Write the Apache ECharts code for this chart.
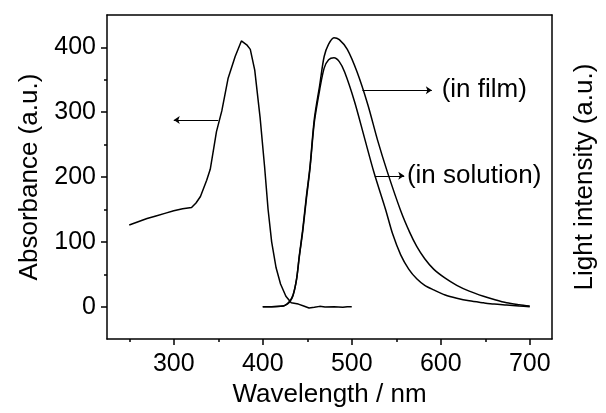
<!DOCTYPE html>
<html>
<head>
<meta charset="utf-8">
<script src="https://cdn.jsdelivr.net/npm/echarts@6/dist/echarts.min.js"></script>
<style>
    html, body { margin: 0; padding: 0; background: #fff; }
    #chart { width: 606px; height: 413px; }
</style>
</head>
<body>
<div id="chart"></div>
<script>
// absorbance spectrum [wavelength, value]
var absorbance = [
    [250, 126], [260, 131], [270, 136], [280, 140], [290, 144], [300, 148],
    [310, 151], [320, 153], [325, 160], [330, 170], [337, 195], [341, 212],
    [345, 245], [348, 270], [354, 302], [361, 352], [369, 386], [376, 410],
    [382, 404], [386, 397], [391, 365], [397, 292], [402, 217], [406, 150],
    [410, 100], [415, 60], [420, 35], [426, 16], [432, 6], [440, 4],
    [446, 1], [452, -2], [458, -1], [464, 0.5], [470, -0.5], [480, 0],
    [490, -1], [495, 0], [500, 0]
];
// emission (in film)
var emFilm = [
    [400, 0], [410, 0], [420, 0.5], [425, 2], [430, 8], [434, 18], [438, 43],
    [441, 78], [445, 120], [449, 170], [453, 215], [458, 290], [464, 342],
    [469, 386], [474, 405], [480, 415], [486, 412], [495, 397], [506, 362],
    [518, 312], [529, 257], [540, 208], [555, 148], [565, 115], [573, 93],
    [582, 74], [592, 58], [605, 44], [618, 33], [632, 24], [648, 16],
    [660, 11], [674, 6], [688, 3], [700, 1]
];
// emission (in solution)
var emSolution = [
    [400, 0], [410, 0], [420, 0.5], [425, 2], [430, 7], [434, 17], [438, 42],
    [441, 76], [445, 117], [449, 166], [453, 212], [458, 285], [464, 335],
    [469, 368], [474, 381], [480, 384], [486, 378], [492, 362], [503, 317],
    [514, 262], [525, 207], [538, 150], [546, 112], [555, 80], [564, 58],
    [573, 43], [582, 33], [592, 26], [605, 18], [618, 13], [632, 9],
    [648, 6], [660, 4], [674, 2.5], [688, 1], [700, 0]
];

var xMajor = [300, 400, 500, 600, 700];
var xMinor = [250, 350, 450, 550, 650];
var yMajor = [0, 100, 200, 300, 400];
var yMinor = [50, 150, 250, 350];

// arrows: [from, to]
var arrows = [
    [[350, 288], [300, 288]],
    [[512, 334], [590, 334]],
    [[526, 202], [559, 202]]
];
var noteNames = ['(in film)', '(in solution)'];
var notePos = [[601, 334], [562, 202]];

var font = '"Liberation Sans", Arial, sans-serif';

var chart = echarts.init(document.getElementById('chart'));

var lineStyle = { color: '#000', width: 1.5 };

function plainAxis(extra) {
    var a = {
        type: 'value',
        axisLine: { show: true, onZero: false, lineStyle: { color: '#000', width: 1.5 } },
        axisTick: { show: false },
        axisLabel: { show: false },
        splitLine: { show: false }
    };
    for (var k in extra) a[k] = extra[k];
    return a;
}

var option = {
    animation: false,
    backgroundColor: '#fff',
    grid: { left: 107, right: 50, top: 15, bottom: 63 },
    xAxis: [
        plainAxis({
            min: 225, max: 725, position: 'bottom',
            name: 'Wavelength / nm', nameLocation: 'middle', nameGap: 38,
            nameTextStyle: { fontSize: 26, color: '#000', fontFamily: font },
            axisTick: { show: true, length: 6, customValues: xMajor, lineStyle: { color: '#000', width: 1.5 } },
            axisLabel: { show: true, customValues: xMajor, fontSize: 25, color: '#000', fontFamily: font, margin: 13 }
        }),
        plainAxis({
            min: 225, max: 725, position: 'bottom',
            axisLine: { show: false, onZero: false },
            axisTick: { show: true, length: 3, customValues: xMinor, lineStyle: { color: '#000', width: 1.5 } }
        }),
        plainAxis({ min: 225, max: 725, position: 'top' })
    ],
    yAxis: [
        plainAxis({
            min: -50, max: 450, position: 'left',
            name: 'Absorbance (a.u.)', nameLocation: 'middle', nameGap: 64,
            nameTextStyle: { fontSize: 26, color: '#000', fontFamily: font },
            axisTick: { show: true, length: 6, customValues: yMajor, lineStyle: { color: '#000', width: 1.5 } },
            axisLabel: { show: true, customValues: yMajor, fontSize: 25, color: '#000', fontFamily: font, margin: 11 }
        }),
        plainAxis({
            min: -50, max: 450, position: 'left',
            axisLine: { show: false, onZero: false },
            axisTick: { show: true, length: 3, customValues: yMinor, lineStyle: { color: '#000', width: 1.5 } }
        }),
        plainAxis({
            min: -50, max: 450, position: 'right',
            name: 'Light intensity (a.u.)', nameLocation: 'middle', nameGap: 20, nameRotate: 90,
            nameTextStyle: { fontSize: 26, color: '#000', fontFamily: font }
        })
    ],
    series: [{
        name: 'Absorbance',
        type: 'line',
        data: absorbance,
        showSymbol: false,
        lineStyle: lineStyle,
        markLine: {
            silent: true,
            symbol: ['none', 'arrow'],
            symbolSize: 6,
            label: { show: false },
            lineStyle: { color: '#000', width: 1, type: 'solid' },
            data: arrows.map(function (a) {
                return [{ coord: a[0] }, { coord: a[1] }];
            })
        }
    }, {
        name: 'in film',
        type: 'line',
        data: emFilm,
        showSymbol: false,
        smooth: 0.3,
        lineStyle: lineStyle
    }, {
        name: 'in solution',
        type: 'line',
        data: emSolution,
        showSymbol: false,
        smooth: 0.3,
        lineStyle: lineStyle
    }, {
        name: 'notes',
        type: 'scatter',
        symbolSize: 0,
        silent: true,
        itemStyle: { opacity: 1, color: '#000' },
        data: notePos.map(function (p, i) {
            return { name: noteNames[i], value: p };
        }),
        label: {
            show: true,
            position: 'right',
            distance: 0,
            formatter: '{b}',
            fontSize: 26,
            color: '#000',
            fontFamily: font
        }
    }]
};

chart.setOption(option);
</script>
</body>
</html>
